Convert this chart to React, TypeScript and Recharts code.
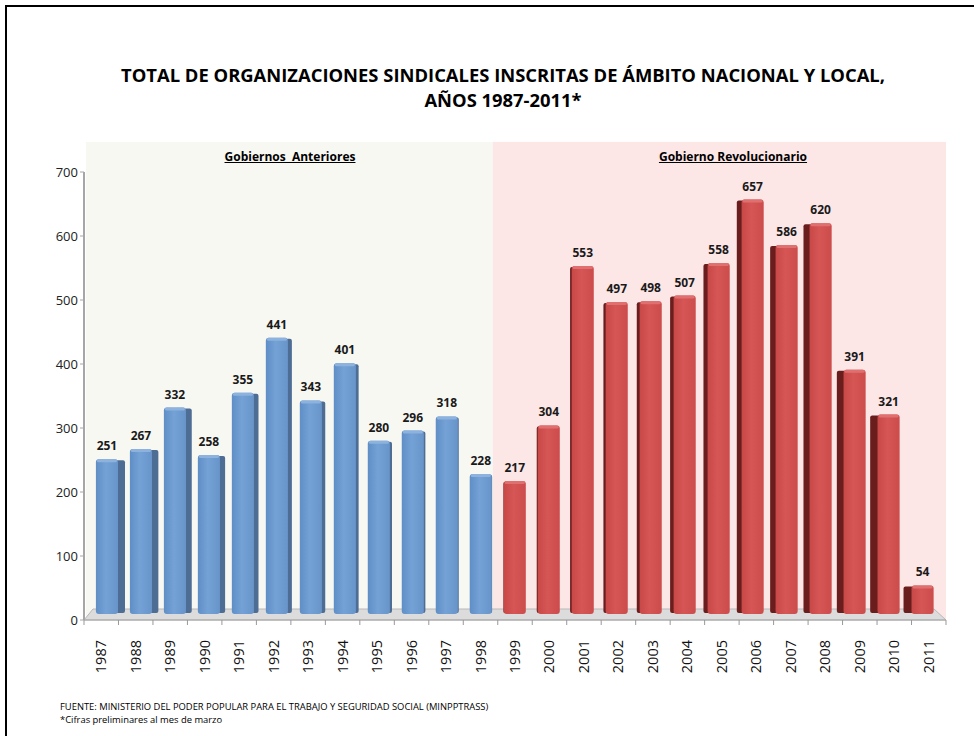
import { BarChart, Bar, XAxis, YAxis, ReferenceArea, LabelList } from "recharts";

const years = [
  "1987", "1988", "1989", "1990", "1991", "1992", "1993", "1994", "1995",
  "1996", "1997", "1998", "1999", "2000", "2001", "2002", "2003", "2004",
  "2005", "2006", "2007", "2008", "2009", "2010", "2011",
];
const organizaciones = [
  251, 267, 332, 258, 355, 441, 343, 401, 280, 296, 318, 228, 217, 304, 553,
  497, 498, 507, 558, 657, 586, 620, 391, 321, 54,
];
const yTicks = [0, 100, 200, 300, 400, 500, 600, 700];
const firstRevolutionYear = "1999";

const data = years.map((year, i) => ({ year, value: organizaciones[i] }));

const FONT = "'Open Sans', 'Liberation Sans', sans-serif";
const N = years.length;

// front face geometry for a bar in the 3D look
function faceOf(x: number, width: number, i: number) {
  const fx = x + width * 0.35 * (1 - i / (N - 1));
  const fw = width * 0.65;
  return { fx, fw };
}

function Bar3D(props: any) {
  const { x, y, width, height, index } = props;
  if (height == null || isNaN(y)) return null;
  const { fx, fw } = faceOf(x, width, index);
  const bottom = y + height - 6;
  const red = years[index] >= firstRevolutionYear;
  const top = y;
  let side = null;
  if (index < 11.5) {
    const sw = (7 * (11.5 - index)) / 11.5;
    side = (
      <rect x={fx + fw - 2} y={top + 1} width={sw + 2} height={bottom - top - 2} rx={2} fill="#4d6d94" />
    );
  } else {
    const sw = (8 * (index - 11.5)) / 12.5;
    side = (
      <rect x={fx - sw} y={top + 1} width={sw + 2} height={bottom - top - 2} rx={2} fill="#6a1d1d" />
    );
  }
  return (
    <g>
      {side}
      <rect
        x={fx}
        y={top}
        width={fw}
        height={bottom - top}
        rx={3}
        fill={red ? "url(#redFace)" : "url(#blueFace)"}
      />
      <rect x={fx + 1} y={top} width={fw - 2} height={3} rx={1.5} fill={red ? "#e07070" : "#8cb2dd"} />
    </g>
  );
}

function BarLabel(props: any) {
  const { x, y, width, value, index } = props;
  const { fx, fw } = faceOf(x, width, index);
  return (
    <text
      x={fx + fw / 2}
      y={y - 9}
      textAnchor="middle"
      fontFamily={FONT}
      fontWeight={700}
      fontSize={12}
      fill="#1a1a1a"
    >
      {value}
    </text>
  );
}

function YearTick(props: any) {
  const { x, y, payload, index } = props;
  const bw = 862 / N;
  return (
    <g>
      <line x1={x - bw / 2} y1={y - 8} x2={x - bw / 2} y2={y - 3} stroke="#999" />
      {index === N - 1 && (
        <line x1={x + bw / 2} y1={y - 8} x2={x + bw / 2} y2={y - 3} stroke="#999" />
      )}
      <text
        transform={`translate(${x + 5},${y + 12}) rotate(-90)`}
        textAnchor="end"
        fontFamily={FONT}
        fontSize={14.5}
        fill="#111"
      >
        {payload.value}
      </text>
    </g>
  );
}

// back wall panels sit a few px left of the category bands (perspective)
function WallLeft(props: any) {
  const { x, y, width, height, fill } = props;
  return <rect x={x + 2} y={y} width={width - 7} height={height} fill={fill} />;
}

function WallRight(props: any) {
  const { x, y, width, height, fill } = props;
  return <rect x={x - 5} y={y} width={width + 5} height={height} fill={fill} />;
}

function Floor(props: any) {
  const { x, y, width, height } = props;
  const b = y + height;
  return (
    <g>
      <polygon
        points={`${x},${b} ${x + width},${b} ${x + width - 12},${b - 11} ${x + 9},${b - 11}`}
        fill="#dcdcdc"
        stroke="#b8b8b8"
      />
      <line x1={x} y1={b} x2={x + width} y2={b} stroke="#a6a6a6" />
    </g>
  );
}

export default function App() {
  return (
    <div style={{ position: "absolute", left: 0, top: 0, width: 974, height: 736, background: "#fff", overflow: "hidden" }}>
      <div
        style={{
          position: "absolute",
          left: 5,
          top: 5,
          width: 990,
          height: 800,
          border: "2px solid #000",
        }}
      />
      <div
        style={{
          position: "absolute",
          left: 0,
          top: 62,
          width: 1006,
          textAlign: "center",
          fontFamily: FONT,
          fontWeight: 700,
          fontSize: 18.4,
          lineHeight: "25px",
          color: "#000",
        }}
      >
        TOTAL DE ORGANIZACIONES SINDICALES INSCRITAS DE ÁMBITO NACIONAL Y LOCAL,
        <br />
        AÑOS 1987-2011*
      </div>
      <div style={{ position: "absolute", left: 0, top: 0 }}>
        <BarChart
          width={974}
          height={736}
          data={data}
          margin={{ top: 172, right: 28, bottom: 56, left: 24 }}
          barCategoryGap={0}
          barGap={0}
        >
          <defs>
            <linearGradient id="blueFace" x1="0" x2="1" y1="0" y2="0">
              <stop offset="0%" stopColor="#5f8ec6" />
              <stop offset="45%" stopColor="#74a2d6" />
              <stop offset="100%" stopColor="#6894c9" />
            </linearGradient>
            <linearGradient id="redFace" x1="0" x2="1" y1="0" y2="0">
              <stop offset="0%" stopColor="#c84848" />
              <stop offset="45%" stopColor="#d65656" />
              <stop offset="100%" stopColor="#cc4c4c" />
            </linearGradient>
          </defs>
          <ReferenceArea
            x1="1987"
            x2="1998"
            y1={0}
            y2={747}
            ifOverflow="visible"
            fill="#f8f8f3"
            fillOpacity={1}
            stroke="none"
            shape={<WallLeft />}
          />
          <ReferenceArea
            x1="1999"
            x2="2011"
            y1={0}
            y2={747}
            ifOverflow="visible"
            fill="#fde6e6"
            fillOpacity={1}
            stroke="none"
            shape={<WallRight />}
          />
          <ReferenceArea
            x1="1987"
            x2="2011"
            y1={0}
            y2={17}
            ifOverflow="visible"
            shape={<Floor />}
          />
          <XAxis
            dataKey="year"
            height={60}
            interval={0}
            axisLine={false}
            tickLine={false}
            tick={<YearTick />}
          />
          <YAxis
            width={60}
            domain={[0, 700]}
            ticks={yTicks}
            interval={0}
            axisLine={{ stroke: "#a6a6a6", strokeWidth: 2 }}
            tickLine={{ stroke: "#a6a6a6" }}
            tickSize={4}
            tick={{ fontFamily: FONT, fontSize: 13, fill: "#222" }}
          />
          <Bar dataKey="value" isAnimationActive={false} shape={<Bar3D />}>
            <LabelList dataKey="value" content={<BarLabel />} />
          </Bar>
        </BarChart>
      </div>
      <div
        style={{
          position: "absolute",
          left: 86,
          width: 408,
          top: 148,
          textAlign: "center",
          fontFamily: FONT,
          fontWeight: 700,
          fontSize: 12,
          textDecoration: "underline",
          whiteSpace: "pre",
          color: "#000",
        }}
      >
        {"Gobiernos  Anteriores"}
      </div>
      <div
        style={{
          position: "absolute",
          left: 520,
          width: 426,
          top: 148,
          textAlign: "center",
          fontFamily: FONT,
          fontWeight: 700,
          fontSize: 12,
          textDecoration: "underline",
          color: "#000",
        }}
      >
        Gobierno Revolucionario
      </div>
      <div
        style={{
          position: "absolute",
          left: 60,
          top: 700,
          fontFamily: FONT,
          fontSize: 9.4,
          lineHeight: "13px",
          color: "#000",
        }}
      >
        FUENTE: MINISTERIO DEL PODER POPULAR PARA EL TRABAJO Y SEGURIDAD SOCIAL (MINPPTRASS)
        <br />
        *Cifras preliminares al mes de marzo
      </div>
    </div>
  );
}
